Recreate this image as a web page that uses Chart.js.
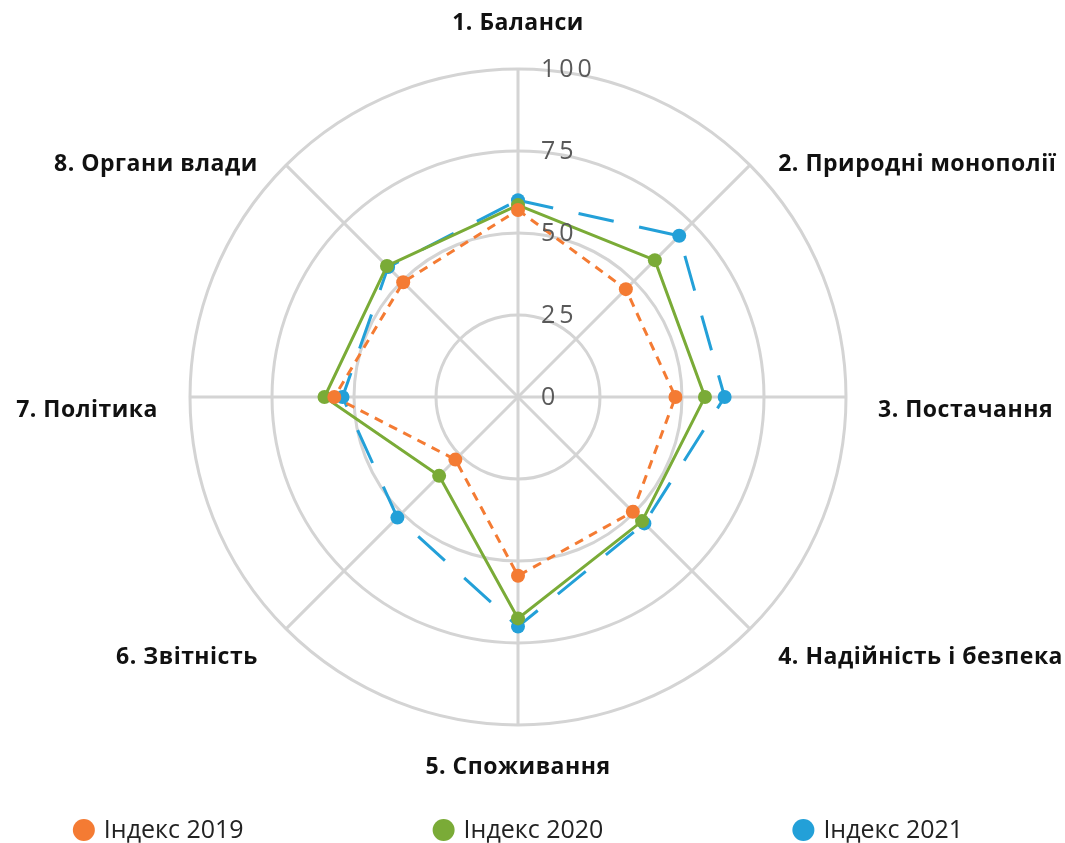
<!DOCTYPE html>
<html>
<head>
<meta charset="utf-8">
<script src="https://cdn.jsdelivr.net/npm/chart.js@4.4.1/dist/chart.umd.min.js"></script>
<style>
  html, body { margin: 0; padding: 0; background: #fff; }
  #wrap { width: 1065px; height: 843px; }
</style>
</head>
<body>
<div id="wrap"><canvas id="chart"></canvas></div>
<script>
const categories = [
  '1. Баланси',
  '2. Природні монополії',
  '3. Постачання',
  '4. Надійність і безпека',
  '5. Споживання',
  '6. Звітність',
  '7. Політика',
  '8. Органи влади',
];
const index2019 = [57, 46.5, 48, 49.5, 54.5, 27, 56, 49.5];
const index2020 = [58.5, 59, 57, 53.5, 67.5, 34, 59, 56.5];
const index2021 = [60, 69.5, 63, 54.5, 70, 52, 53.5, 56];
const seriesNames = ['Індекс 2019', 'Індекс 2020', 'Індекс 2021'];
const tickValues = [0, 25, 50, 75, 100];

const orange = '#f47b33';
const green = '#7aab37';
const blue = '#23a0d8';
const gridColor = '#d4d4d4';

// tick numbers sit to the right of the vertical axis, incl. the 0 at centre
const tickLabels = {
  id: 'tickLabels',
  afterDraw(chart) {
    const r = chart.scales.r;
    const ctx = chart.ctx;
    ctx.save();
    ctx.font = '25px "Open Sans"';
    ctx.letterSpacing = '4px';
    ctx.fillStyle = '#595959';
    ctx.textAlign = 'left';
    ctx.textBaseline = 'middle';
    tickValues.forEach((v) => {
      const y = r.yCenter - r.getDistanceFromCenterForValue(v) + 1;
      ctx.fillText(String(v), r.xCenter + 23, y);
    });
    ctx.restore();
  },
};

// category names around the outer ring
const pointLabels = {
  id: 'pointLabelsCustom',
  afterDraw(chart) {
    const r = chart.scales.r;
    const ctx = chart.ctx;
    ctx.save();
    ctx.font = 'bold 23px "Open Sans"';
    ctx.letterSpacing = '0.5px';
    ctx.fillStyle = '#111';
    ctx.textBaseline = 'middle';
    categories.forEach((label, i) => {
      const a = r.getIndexAngle(i);
      const s = Math.sin(a);
      const c = Math.cos(a);
      const diag = Math.abs(s) > 0.1 && Math.abs(c) > 0.1;
      const pos = r.getPointPosition(i, r.drawingArea + (diag ? 40 : 32));
      let dy;
      if (c > 0.9) dy = -14;
      else if (c < -0.9) dy = 10;
      else if (Math.abs(c) < 0.1) dy = 13;
      else dy = c > 0 ? 28 : 0;
      ctx.textAlign = s > 0.1 ? 'left' : s < -0.1 ? 'right' : 'center';
      ctx.fillText(label, pos.x, pos.y + dy);
    });
    ctx.restore();
  },
};

// legend row under the chart, spaced like the original
const legendRow = {
  id: 'legendRow',
  afterDraw(chart) {
    const ctx = chart.ctx;
    const r = chart.scales.r;
    ctx.save();
    ctx.font = '25px "Open Sans"';
    ctx.textBaseline = 'middle';
    const dot = 22;
    const gap = 189;
    const widths = chart.data.datasets.map(
      (ds) => dot + 9 + ctx.measureText(ds.label).width
    );
    const total = widths.reduce((a, b) => a + b, 0) + gap * (widths.length - 1);
    let x = r.xCenter - total / 2;
    const y = 830;
    chart.data.datasets.forEach((ds, i) => {
      ctx.fillStyle = ds.pointBackgroundColor;
      ctx.beginPath();
      ctx.arc(x + dot / 2, y, dot / 2, 0, Math.PI * 2);
      ctx.fill();
      ctx.fillStyle = '#222';
      ctx.textAlign = 'left';
      ctx.fillText(ds.label, x + dot + 9, y + 1);
      x += widths[i] + gap;
    });
    ctx.restore();
  },
};

const makeSet = (label, data, color, dash) => ({
  label,
  data,
  borderColor: color,
  backgroundColor: color,
  pointBackgroundColor: color,
  pointBorderWidth: 0,
  pointRadius: 7,
  borderWidth: 3,
  borderDash: dash,
  fill: false,
  tension: 0,
});

new Chart(document.getElementById('chart'), {
  type: 'radar',
  plugins: [tickLabels, pointLabels, legendRow],
  data: {
    labels: categories,
    datasets: [
      makeSet(seriesNames[0], index2019, orange, [9, 7]),
      makeSet(seriesNames[1], index2020, green, []),
      makeSet(seriesNames[2], index2021, blue, [36, 26]),
    ],
  },
  options: {
    responsive: true,
    maintainAspectRatio: false,
    animation: false,
    events: [],
    layout: {
      padding: { top: 69, bottom: 118, left: 0, right: 29 },
    },
    plugins: {
      legend: { display: false },
      tooltip: { enabled: false },
    },
    scales: {
      r: {
        min: 0,
        max: 100,
        ticks: { stepSize: 25, display: false },
        grid: { circular: true, color: gridColor, lineWidth: 3 },
        angleLines: { color: gridColor, lineWidth: 3 },
        pointLabels: { display: false },
      },
    },
  },
});
</script>
</body>
</html>
